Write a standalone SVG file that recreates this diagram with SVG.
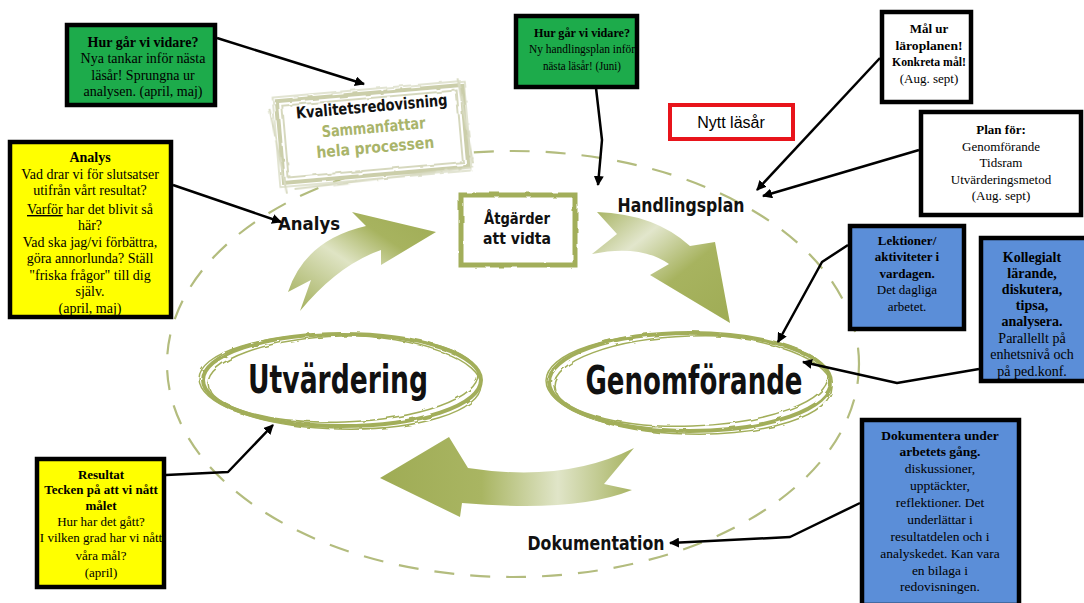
<svg xmlns="http://www.w3.org/2000/svg" width="1084" height="603" viewBox="0 0 1084 603">
<defs>
<style>
.t{font-family:"Liberation Serif",serif;font-size:13px;text-anchor:middle;fill:#000}
.s14{font-size:14px}
.s12{font-size:12px}
.s135{font-size:13.5px}
.b{font-weight:bold}
.h{font-family:"Liberation Sans Narrow","DejaVu Sans Condensed",sans-serif;font-weight:bold;font-stretch:condensed;text-anchor:middle;fill:#111}
.ol{fill:#a9b46a}
.box{stroke:#000;stroke-width:4.5}
.grn{fill:#1dab4b}
.yel{fill:#ffff00}
.blu{fill:#5b8ed8}
.wht{fill:#fff}
.con{fill:none;stroke:#000;stroke-width:2.5;stroke-linejoin:round}
.sk{fill:none;stroke:#a2ae5a}
</style>
<marker id="ah" viewBox="0 0 10 10" refX="9" refY="5" markerWidth="4" markerHeight="4" orient="auto"><path d="M0,0 L10,5 L0,10 z" fill="#000"/></marker>
<linearGradient id="gL" x1="0" y1="1" x2="1" y2="0"><stop offset="0" stop-color="#9fac55"/><stop offset="0.45" stop-color="#dfe4c4"/><stop offset="0.7" stop-color="#a7b35f"/><stop offset="1" stop-color="#9fac55"/></linearGradient>
<linearGradient id="gR" x1="0" y1="0" x2="1" y2="1"><stop offset="0" stop-color="#a6b260"/><stop offset="0.3" stop-color="#e2e6cc"/><stop offset="0.6" stop-color="#a7b35f"/><stop offset="1" stop-color="#9fac55"/></linearGradient>
<linearGradient id="gB" x1="1" y1="0" x2="0" y2="0"><stop offset="0" stop-color="#a7b361"/><stop offset="0.3" stop-color="#e0e5c8"/><stop offset="0.6" stop-color="#a9b562"/><stop offset="1" stop-color="#9fac55"/></linearGradient>
<filter id="rough" x="-5%" y="-5%" width="110%" height="110%"><feTurbulence type="fractalNoise" baseFrequency="0.08" numOctaves="2" seed="3"/><feDisplacementMap in="SourceGraphic" scale="3"/></filter>
</defs>

<g id="cycle-outline">
<ellipse cx="513" cy="364" rx="346" ry="213" fill="none" stroke="#b3bc7e" stroke-width="2.2" stroke-dasharray="20 16"/>
</g>

<g id="kvalitetsredovisning" transform="rotate(-5 372 133)">
<g filter="url(#rough)">
<rect x="280" y="93" width="185" height="82" fill="#fff" stroke="#cbceaa" stroke-width="4"/>
<rect x="285" y="98" width="175" height="72" fill="none" stroke="#d6d8bd" stroke-width="2"/>
<rect x="276" y="89" width="192" height="90" fill="none" stroke="#d9dbc3" stroke-width="1.5"/>
<path d="M272,100 L282,186 M290,182 L470,176 M462,86 L470,172" fill="none" stroke="#d9dbc3" stroke-width="2"/>
</g>
<text class="h" x="374" y="112" font-size="16" textLength="152" lengthAdjust="spacingAndGlyphs">Kvalitetsredovisning</text>
<text class="h ol" x="374" y="133" font-size="16" style="fill:#a9b46a" textLength="104" lengthAdjust="spacingAndGlyphs">Sammanfattar</text>
<text class="h ol" x="374" y="153" font-size="16" style="fill:#a9b46a" textLength="118" lengthAdjust="spacingAndGlyphs">hela processen</text>
</g>

<g id="atgarder">
<g filter="url(#rough)">
<rect x="461" y="195" width="114" height="70" fill="#fff" stroke="#a2ae5a" stroke-width="5"/>
</g>
<text class="h" x="517" y="224" font-size="15" textLength="66" lengthAdjust="spacingAndGlyphs">Åtgärder</text>
<text class="h" x="517" y="244" font-size="15" textLength="68" lengthAdjust="spacingAndGlyphs">att vidta</text>
</g>

<g id="arrow-analys">
<path d="M288,292 Q305,240 366,226 L352,212 L436,232 L381,265 L381,250 Q338,265 300,311 L311,280 Z" fill="url(#gL)"/>
</g>
<g id="arrow-handling">
<path d="M597,212 Q655,214 690,246 L715,242 L730,323 L650,275 L669,264 Q640,244 592,254 L617,234 Z" fill="url(#gR)"/>
</g>
<g id="arrow-dok">
<path d="M634,448 Q565,483 468,468 L449,437 L380,478 L460,517 L462,503 Q575,513 632,490 L604,484 Z" fill="url(#gB)"/>
</g>

<g id="utvardering">
<g filter="url(#rough)">
<ellipse cx="342" cy="380" rx="139" ry="46" class="sk" stroke-width="4"/>
<ellipse cx="343" cy="379" rx="135" ry="43" class="sk" stroke-width="1.5" transform="rotate(-2 343 379)"/>
<ellipse cx="340" cy="382" rx="141" ry="47" class="sk" stroke-width="1.5" transform="rotate(1.5 340 382)"/>
</g>
<text class="h" x="338" y="393" font-size="39" textLength="180" lengthAdjust="spacingAndGlyphs">Utvärdering</text>
</g>

<g id="genomforande">
<g filter="url(#rough)">
<ellipse cx="690" cy="382" rx="141" ry="49" class="sk" stroke-width="4"/>
<ellipse cx="691" cy="381" rx="137" ry="45" class="sk" stroke-width="1.5" transform="rotate(-2 691 381)"/>
<ellipse cx="689" cy="384" rx="143" ry="50" class="sk" stroke-width="1.5" transform="rotate(1.5 689 384)"/>
</g>
<text class="h" x="694" y="394" font-size="39" textLength="217" lengthAdjust="spacingAndGlyphs">Genomförande</text>
</g>

<g id="labels">
<text class="h" x="309" y="230" font-size="18" textLength="62" lengthAdjust="spacingAndGlyphs">Analys</text>
<text class="h" x="681" y="212" font-size="19" textLength="127" lengthAdjust="spacingAndGlyphs">Handlingsplan</text>
<text class="h" x="596" y="550" font-size="19" textLength="137" lengthAdjust="spacingAndGlyphs">Dokumentation</text>
</g>

<g id="connectors">
<path class="con" d="M217,38 L364,84" marker-end="url(#ah)"/>
<path class="con" d="M596,88 L602,140 L598,185" marker-end="url(#ah)"/>
<path class="con" d="M880,58 L757,190" marker-end="url(#ah)"/>
<path class="con" d="M919,150 L763,196" marker-end="url(#ah)"/>
<path class="con" d="M173,185 L281,222" marker-end="url(#ah)"/>
<path class="con" d="M848,245 L822,262 L778,342" marker-end="url(#ah)"/>
<path class="con" d="M979,369 L897,383 L803,362" marker-end="url(#ah)"/>
<path class="con" d="M860,503 L790,537 L670,543" marker-end="url(#ah)"/>
<path class="con" d="M166,475 L228,472 L273,425" marker-end="url(#ah)"/>
</g>

<g id="box-hur-topleft">
<rect x="67" y="25" width="148" height="80" class="box grn"/>
<text class="t s14 b" x="143" y="47">Hur går vi vidare?</text>
<text class="t s14" x="143" y="63">Nya tankar inför nästa</text>
<text class="t s14" x="143" y="80">läsår! Sprungna ur</text>
<text class="t s14" x="143" y="96">analysen. (april, maj)</text>
</g>

<g id="box-hur-top">
<rect x="516" y="16" width="121" height="71" class="box grn"/>
<text class="t b" x="582" y="37" textLength="96" lengthAdjust="spacingAndGlyphs">Hur går vi vidare?</text>
<text class="t" x="582" y="53" textLength="106" lengthAdjust="spacingAndGlyphs">Ny handlingsplan inför</text>
<text class="t" x="582" y="70" textLength="78" lengthAdjust="spacingAndGlyphs">nästa läsår! (Juni)</text>
</g>

<g id="box-nytt">
<rect x="670" y="105" width="123" height="34" fill="#fff" stroke="#e8141b" stroke-width="4"/>
<text x="731" y="128" font-family="Liberation Sans, sans-serif" font-size="16" text-anchor="middle">Nytt läsår</text>
</g>

<g id="box-mal">
<rect x="882" y="12" width="89" height="90" class="box wht"/>
<text class="t b" x="929" y="33">Mål ur</text>
<text class="t b" x="929" y="50" textLength="67" lengthAdjust="spacingAndGlyphs">läroplanen!</text>
<text class="t b" x="929" y="66" textLength="74" lengthAdjust="spacingAndGlyphs">Konkreta mål!</text>
<text class="t" x="929" y="83">(Aug. sept)</text>
</g>

<g id="box-plan">
<rect x="921" y="112" width="160" height="103" class="box wht"/>
<text class="t b" x="1001" y="134">Plan för:</text>
<text class="t" x="1001" y="151">Genomförande</text>
<text class="t" x="1001" y="167">Tidsram</text>
<text class="t" x="1001" y="184">Utvärderingsmetod</text>
<text class="t" x="1001" y="200">(Aug. sept)</text>
</g>

<g id="box-analys">
<rect x="10" y="142" width="161" height="175" class="box yel"/>
<text class="t s14 b" x="90" y="162">Analys</text>
<text class="t s14" x="90" y="179">Vad drar vi för slutsatser</text>
<text class="t s14" x="90" y="195">utifrån vårt resultat?</text>
<text class="t s14" x="90" y="214"><tspan text-decoration="underline">Varför</tspan> har det blivit så</text>
<text class="t s14" x="90" y="230">här?</text>
<text class="t s14" x="90" y="247">Vad ska jag/vi förbättra,</text>
<text class="t s14" x="90" y="263">göra annorlunda? Ställ</text>
<text class="t s14" x="90" y="280">"friska frågor" till dig</text>
<text class="t s14" x="90" y="296">själv.</text>
<text class="t s14" x="90" y="313">(april, maj)</text>
</g>

<g id="box-lektioner">
<rect x="850" y="226" width="114" height="103" class="box blu"/>
<text class="t b" x="907" y="245">Lektioner/</text>
<text class="t b" x="907" y="261">aktiviteter i</text>
<text class="t b" x="907" y="278">vardagen.</text>
<text class="t" x="907" y="294">Det dagliga</text>
<text class="t" x="907" y="311">arbetet.</text>
</g>

<g id="box-kollegialt">
<rect x="981" y="238" width="106" height="143" class="box blu"/>
<text class="t s14 b" x="1032" y="262">Kollegialt</text>
<text class="t s14 b" x="1032" y="278">lärande,</text>
<text class="t s14 b" x="1032" y="294">diskutera,</text>
<text class="t s14 b" x="1032" y="310">tipsa,</text>
<text class="t s14 b" x="1032" y="326">analysera.</text>
<text class="t s14" x="1032" y="343">Parallellt på</text>
<text class="t s14" x="1032" y="359">enhetsnivå och</text>
<text class="t s14" x="1032" y="376">på ped.konf.</text>
</g>

<g id="box-dokumentera">
<rect x="862" y="420" width="157" height="185" class="box blu"/>
<text class="t s135 b" x="940" y="440">Dokumentera under</text>
<text class="t s135 b" x="940" y="456">arbetets gång.</text>
<text class="t s135" x="940" y="473">diskussioner,</text>
<text class="t s135" x="940" y="490">upptäckter,</text>
<text class="t s135" x="940" y="507">reflektioner. Det</text>
<text class="t s135" x="940" y="524">underlättar i</text>
<text class="t s135" x="940" y="541">resultatdelen och i</text>
<text class="t s135" x="940" y="558">analyskedet. Kan vara</text>
<text class="t s135" x="940" y="575">en bilaga i</text>
<text class="t s135" x="940" y="591">redovisningen.</text>
</g>

<g id="box-resultat">
<rect x="37" y="459" width="127" height="128" class="box yel"/>
<text class="t b" x="101" y="479">Resultat</text>
<text class="t b" x="101" y="494">Tecken på att vi nått</text>
<text class="t b" x="101" y="510">målet</text>
<text class="t" x="101" y="526">Hur har det gått?</text>
<text class="t" x="101" y="542">I vilken grad har vi nått</text>
<text class="t" x="101" y="560">våra mål?</text>
<text class="t" x="101" y="577">(april)</text>
</g>
</svg>
